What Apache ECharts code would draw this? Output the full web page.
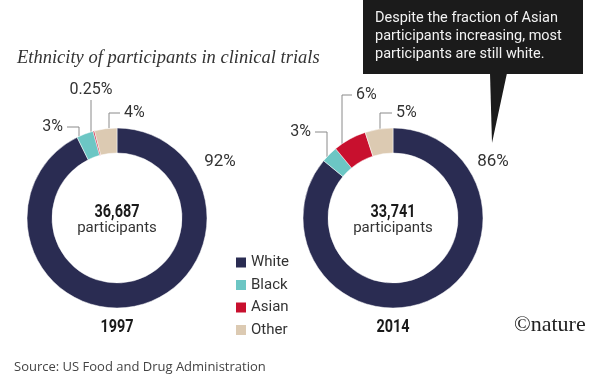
<!DOCTYPE html>
<html>
<head>
<meta charset="utf-8">
<script src="https://cdn.jsdelivr.net/npm/echarts@6/dist/echarts.min.js"></script>
<style>html,body{margin:0;padding:0;background:#fff}#c{width:600px;height:384px}</style>
</head>
<body>
<div id="c"></div>
<script>
// ---- data ----
var categories = ['White', 'Black', 'Asian', 'Other'];
var values1997 = [92, 3, 0.25, 4];
var values2014 = [86, 3, 6, 5];
var years = ['1997', '2014'];
var totals = ['36,687', '33,741'];
var colors = ['#2a2c52', '#6cc6c4', '#c8102e', '#dccab2'];

// ---- layout ----
var centers = [[117, 218], [393, 218]];
var R_IN = 65, R_OUT = 90;
var BOLD = 'bold 19px Roboto, sans-serif';
var NARROW = 0.76;
// per-label leader placement (relative to pie centre)
var labelPlace = [
  [{dx: 103, dy: -56}, {side: 'left', lx: -38, ly: -91, arm: 12},
   {side: 'top', lx: -26, ly: -118}, {side: 'right', lx: -8, ly: -105, arm: 11}],
  [{dx: 100, dy: -56}, {side: 'left', lx: -66, ly: -86, arm: 12},
   {side: 'right', lx: -51, ly: -123, arm: 10}, {side: 'right', lx: -13, ly: -105, arm: 12}]
];

function makeSeries(idx, values) {
  var c = centers[idx];
  return {
    type: 'pie',
    name: years[idx],
    center: c,
    radius: [R_IN, R_OUT],
    startAngle: 90,
    clockwise: true,
    silent: true,
    avoidLabelOverlap: false,
    itemStyle: {borderColor: '#fff', borderWidth: 0.5},
    label: {
      show: true,
      position: 'outside',
      formatter: function (p) { return values[p.dataIndex] + '%'; },
      fontFamily: 'Roboto',
      fontSize: 16,
      color: '#333'
    },
    labelLine: {show: true, lineStyle: {color: '#8a8a8a', width: 1}},
    labelLayout: function (params) {
      var L = labelPlace[idx][params.dataIndex];
      if (L.dx !== undefined) {
        return {x: c[0] + L.dx, y: c[1] + L.dy, align: 'center', verticalAlign: 'middle', fontSize: 17};
      }
      var x = c[0] + L.lx;
      var y0 = c[1] - Math.sqrt(R_OUT * R_OUT - L.lx * L.lx);
      var ly = c[1] + L.ly;
      if (L.side === 'top') {
        return {x: x, y: ly - 2, align: 'center', verticalAlign: 'bottom',
          labelLinePoints: [[x, y0], [x, ly], [x, ly]]};
      }
      var sgn = L.side === 'left' ? -1 : 1;
      return {x: x + sgn * (L.arm + 4), y: ly, align: L.side === 'left' ? 'right' : 'left',
        verticalAlign: 'middle',
        labelLinePoints: [[x, y0], [x, ly], [x + sgn * L.arm, ly]]};
    },
    data: categories.map(function (n, i) {
      return {name: n, value: values[i], itemStyle: {color: colors[i]},
        labelLine: {show: i > 0}};
    })
  };
}

var chart = echarts.init(document.getElementById('c'), null, {renderer: 'canvas'});

var graphics = [
  // callout box
  {type: 'rect', shape: {x: 363, y: -2, width: 220, height: 76}, style: {fill: '#1b1b1b'}},
  {type: 'polygon', shape: {points: [[490, 73], [507, 73], [492, 143]]}, style: {fill: '#1b1b1b'}},
  {type: 'text', left: 375, top: 9, style: {
    text: 'Despite the fraction of Asian\nparticipants increasing, most\nparticipants are still white.',
    fill: '#f2f2f2', font: '14.5px Roboto', lineHeight: 18}},
  // source & logo
  {type: 'text', left: 14, top: 361, style: {text: 'Source: US Food and Drug Administration',
    fill: '#444', font: '13px "Open Sans"'}},
  {type: 'text', left: 514, top: 314, style: {text: '\u00a9nature', fill: '#222',
    font: '22px "Liberation Serif"'}}
];
[0, 1].forEach(function (i) {
  var c = centers[i];
  graphics.push({type: 'text', x: c[0], y: c[1] - 6, scaleX: NARROW, style: {text: totals[i], fill: '#1a1a1a',
    font: BOLD, textAlign: 'center', textVerticalAlign: 'middle'}});
  graphics.push({type: 'text', x: c[0], y: c[1] + 10, style: {text: 'participants', fill: '#333',
    font: '15px Roboto', textAlign: 'center', textVerticalAlign: 'middle'}});
  graphics.push({type: 'text', x: c[0], y: 327, scaleX: NARROW, style: {text: years[i], fill: '#1a1a1a',
    font: BOLD, textAlign: 'center', textVerticalAlign: 'middle'}});
});

chart.setOption({
  animation: false,
  backgroundColor: '#fff',
  title: {
    text: 'Ethnicity of participants in clinical trials',
    left: 12, top: 44,
    textStyle: {fontFamily: 'Liberation Serif', fontStyle: 'italic', fontWeight: 'normal',
      fontSize: 18.5, color: '#333'}
  },
  legend: {
    data: categories,
    orient: 'vertical',
    left: 229, top: 250,
    icon: 'rect',
    itemWidth: 12, itemHeight: 12,
    itemGap: 7.5,
    selectedMode: false,
    textStyle: {fontFamily: 'Roboto', fontSize: 15, color: '#333', padding: [0, 0, 0, -1]}
  },
  series: [makeSeries(0, values1997), makeSeries(1, values2014)],
  graphic: graphics
});
</script>
</body>
</html>
